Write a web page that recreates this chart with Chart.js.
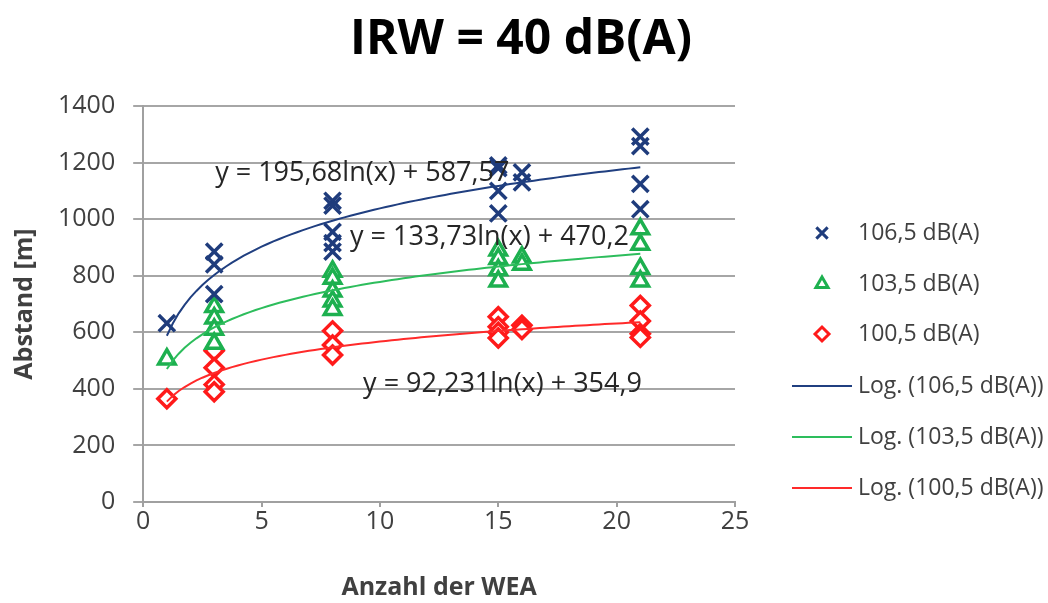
<!DOCTYPE html>
<html>
<head>
<meta charset="utf-8">
<script src="https://cdn.jsdelivr.net/npm/chart.js@4.4.1/dist/chart.umd.min.js"></script>
<style>
html,body{margin:0;padding:0;background:#fff;}
#wrap{width:1048px;height:603px;}
</style>
</head>
<body>
<div id="wrap"><canvas id="c" width="1048" height="603"></canvas></div>
<script>
// ---- data ----
const chartTitle = "IRW = 40 dB(A)";
const seriesNames = ["106,5 dB(A)", "103,5 dB(A)", "100,5 dB(A)"];
const trendNames = ["Log. (106,5 dB(A))", "Log. (103,5 dB(A))", "Log. (100,5 dB(A))"];

const xBlue = [1, 3, 3, 3, 8, 8, 8, 8, 8, 15, 15, 15, 15, 16, 16, 21, 21, 21, 21];
const yBlue = [632, 885, 840, 735, 1065, 1048, 955, 915, 885, 1190, 1180, 1100, 1020, 1165, 1130, 1292, 1258, 1125, 1035];

const xGreen = [1, 3, 3, 3, 3, 8, 8, 8, 8, 8, 15, 15, 15, 15, 16, 16, 21, 21, 21, 21];
const yGreen = [505, 690, 650, 610, 560, 815, 790, 745, 710, 680, 890, 860, 820, 780, 865, 840, 965, 910, 825, 780];

const xRed = [1, 3, 3, 3, 3, 8, 8, 8, 15, 15, 15, 15, 16, 16, 21, 21, 21, 21];
const yRed = [365, 535, 475, 415, 390, 605, 555, 520, 655, 620, 600, 580, 625, 610, 695, 640, 595, 582];

// trendline coefficients y = a*ln(x) + b (as printed on chart)
const trendA = [195.68, 133.73, 92.231];
const trendB = [587.57, 470.2, 354.9];
const trendLabels = ["y = 195,68ln(x) + 587,57", "y = 133,73ln(x) + 470,2", "y = 92,231ln(x) + 354,9"];
const trendXRange = [1, 21];

const xTicks = [0, 5, 10, 15, 20, 25];
const yTicks = [0, 200, 400, 600, 800, 1000, 1200, 1400];

// ---- styling ----
const colors = ["#1F3C7C", "#1DB04F", "#FF1A1A"];
const lineColors = ["#203F80", "#2DBD5C", "#FF2A2A"];
const markerStyles = ["crossRot", "triangle", "rectRot"];
const FONT = "'Open Sans', 'DejaVu Sans', sans-serif";

function pts(xs, ys){ return xs.map((x,i)=>({x:x, y:ys[i]})); }
function trendPts(k){
  const out = [];
  const n = 80;
  for(let i=0;i<=n;i++){
    const x = trendXRange[0] + (trendXRange[1]-trendXRange[0])*i/n;
    out.push({x:x, y: trendA[k]*Math.log(x) + trendB[k]});
  }
  return out;
}

const scatterData = [pts(xBlue,yBlue), pts(xGreen,yGreen), pts(xRed,yRed)];

const datasets = [];
for(let k=0;k<3;k++){
  datasets.push({
    label: seriesNames[k],
    data: scatterData[k],
    showLine: false,
    pointStyle: markerStyles[k],
    pointRadius: k===0 ? 11.5 : (k===1 ? 9.5 : 9),
    pointBorderWidth: 3.5,
    pointBorderColor: colors[k],
    pointBackgroundColor: k===0 ? colors[k] : "#ffffff",
    borderColor: colors[k],
    backgroundColor: "#ffffff",
    order: 1
  });
}
for(let k=0;k<3;k++){
  datasets.push({
    label: trendNames[k],
    data: trendPts(k),
    showLine: true,
    pointRadius: 0,
    borderWidth: 2,
    borderColor: lineColors[k],
    tension: 0,
    order: 0
  });
}

const titlePlugin = {
  id: 'centerTitle',
  afterDraw(chart, args, opts){
    const ctx = chart.ctx;
    ctx.save();
    ctx.font = opts.font;
    ctx.fillStyle = opts.color;
    ctx.textAlign = 'center';
    ctx.textBaseline = 'middle';
    ctx.fillText(chartTitle, opts.x, opts.y);
    ctx.restore();
  }
};

const legendPlugin = {
  id: 'customLegend',
  afterDraw(chart, args, opts){
    const ctx = chart.ctx;
    ctx.save();
    const rowY = opts.rows;
    ctx.font = opts.font;
    ctx.textBaseline = 'middle';
    ctx.textAlign = 'left';
    for(let i=0;i<6;i++){
      const y = rowY[i];
      if(i<3){
        ctx.lineWidth = 3;
        ctx.strokeStyle = colors[i];
        ctx.fillStyle = i===0 ? colors[i] : '#fff';
        Chart.helpers.drawPoint(ctx, {pointStyle: markerStyles[i], radius: i===0?8:7, borderWidth:3}, opts.markerX, y);
      } else {
        ctx.lineWidth = 2;
        ctx.strokeStyle = lineColors[i-3];
        ctx.beginPath();
        ctx.moveTo(opts.lineX0, y);
        ctx.lineTo(opts.lineX1, y);
        ctx.stroke();
      }
      ctx.fillStyle = opts.textColor;
      ctx.fillText(chart.data.datasets[i].label, opts.textX, y);
    }
    ctx.restore();
  }
};

const eqPlugin = {
  id: 'eqLabels',
  afterDatasetsDraw(chart, args, opts){
    const ctx = chart.ctx;
    const xs = chart.scales.x, ys = chart.scales.y;
    ctx.save();
    ctx.font = opts.font;
    ctx.fillStyle = opts.color;
    ctx.textBaseline = 'middle';
    ctx.textAlign = 'left';
    opts.anchors.forEach((a,i)=>{
      ctx.fillText(trendLabels[i], xs.getPixelForValue(a[0]), ys.getPixelForValue(a[1]));
    });
    ctx.restore();
  }
};

new Chart(document.getElementById('c'), {
  type: 'scatter',
  data: { datasets },
  plugins: [titlePlugin, legendPlugin, eqPlugin],
  options: {
    responsive: false,
    animation: false,
    layout: { padding: { left: 0, right: 313, top: 106, bottom: 0 } },
    scales: {
      x: {
        type: 'linear', min: 0, max: 25,
        afterBuildTicks: (s)=>{ s.ticks = xTicks.map(v=>({value:v})); },
        grid: { drawOnChartArea: false, drawTicks: true, tickLength: 5, color: '#A0A0A0', lineWidth: 2 },
        border: { display: true, color: '#A0A0A0', width: 2 },
        ticks: { font: { family: FONT, size: 25 }, color: '#404040', padding: 0, callback: (v)=>String(v) },
        title: { display: true, text: 'Anzahl der WEA', font: { family: FONT, size: 25, weight: 'bold' }, color: '#404040', padding: { top: 36, bottom: 0 } }
      },
      y: {
        type: 'linear', min: 0, max: 1400,
        afterBuildTicks: (s)=>{ s.ticks = yTicks.map(v=>({value:v})); },
        grid: { drawOnChartArea: true, drawTicks: true, tickLength: 10, color: '#A6A6A6', lineWidth: 2 },
        border: { display: true, color: '#A0A0A0', width: 2 },
        ticks: { font: { family: FONT, size: 25 }, color: '#404040', padding: 18, callback: (v)=>String(v) },
        title: { display: true, text: 'Abstand [m]', font: { family: FONT, size: 25, weight: 'bold' }, color: '#404040', padding: { top: 10, bottom: 0 } }
      }
    },
    plugins: {
      legend: { display: false },
      tooltip: { enabled: false },
      title: { display: false },
      centerTitle: { x: 521, y: 40, font: "bold 48px " + FONT, color: '#000' },
      customLegend: {
        rows: [233, 284, 334, 386, 437, 488],
        markerX: 822, lineX0: 792, lineX1: 852, textX: 858,
        font: "23px " + FONT, textColor: '#404040'
      },
      eqLabels: {
        anchors: [[3.04, 1163], [8.74, 934], [9.29, 415]],
        font: "27px " + FONT, color: '#262626'
      }
    }
  }
});
</script>
</body>
</html>
